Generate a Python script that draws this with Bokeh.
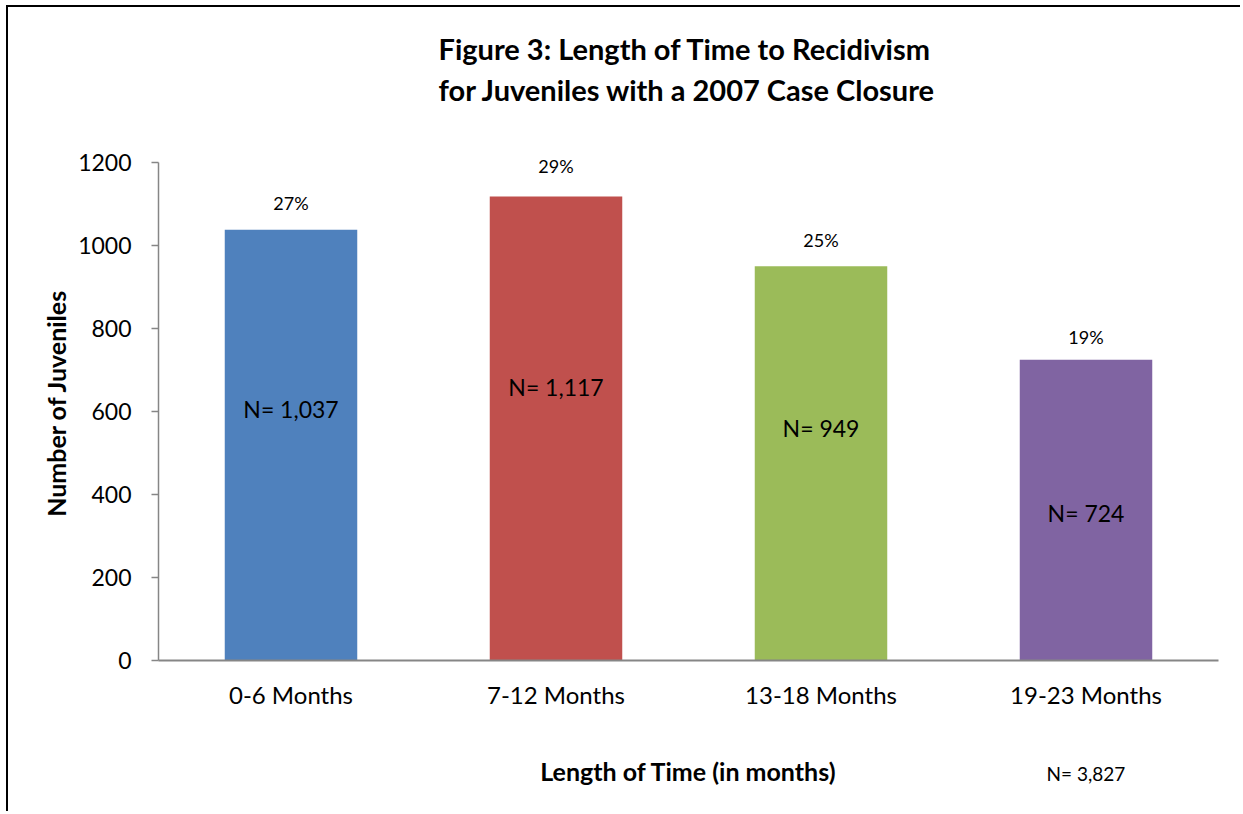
from bokeh.plotting import figure
from bokeh.models import (FactorRange, Range1d, FixedTicker, Title, CategoricalAxis,
                          ColumnDataSource)
from bokeh.core.properties import value
from bokeh.embed import file_html
from bokeh.resources import INLINE

# ---- data ----
categories = ["0-6 Months", "7-12 Months", "13-18 Months", "19-23 Months"]
counts = [1037, 1117, 949, 724]
percents = ["27%", "29%", "25%", "19%"]
n_labels = ["N= 1,037", "N= 1,117", "N= 949", "N= 724"]
colors = ["#4F81BD", "#C0504D", "#9BBB59", "#8064A2"]
y_ticks = [0, 200, 400, 600, 800, 1000, 1200]
total_label = "N= 3,827"

# ---- label placement (style) ----
pct_offsets = [-27, -31, -26, -23]          # px above bar top
n_label_frac = [0.585, 0.59, 0.59, 0.49]    # fraction of bar height

FONT = "Lato"

src = ColumnDataSource(dict(
    cat=categories, count=counts, color=colors, pct=percents,
    pct_off=pct_offsets, nlab=n_labels,
    ny=[c * f for c, f in zip(counts, n_label_frac)],
))

p = figure(
    x_range=FactorRange(factors=categories), y_range=Range1d(0, 1240),
    width=1234, height=806, output_backend="svg", toolbar_location=None,
    min_border_left=150, min_border_right=24, min_border_top=138, min_border_bottom=153,
    outline_line_color=None, background_fill_color="white", border_fill_color="white",
)
p.styles = {"border-left": "2px solid black", "border-top": "2px solid black",
            "margin-left": "6px", "margin-top": "5px"}

p.vbar(x="cat", top="count", width=0.5, color="color", line_color=None, source=src)

p.text(x="cat", y="count", text="pct", y_offset="pct_off", source=src,
       text_align="center", text_baseline="middle",
       text_font=value(FONT), text_font_size="18px", text_color="black")
p.text(x="cat", y="ny", text="nlab", source=src,
       text_align="center", text_baseline="middle",
       text_font=value(FONT), text_font_size="23px", text_color="black")

# spacer between frame and title, then the two-line title
p.add_layout(Title(text=" ", text_font_size="1px", standoff=14), "above")
p.add_layout(Title(text="Figure 3:  Length of Time to Recidivism\nfor Juveniles with a 2007 Case Closure",
                   align="center", text_font=FONT, text_font_size="29px",
                   text_font_style="bold", text_color="black",
                   text_line_height=1.17, standoff=43), "above")

p.xgrid.grid_line_color = None
p.ygrid.grid_line_color = None

xa = p.xaxis[0]
xa.axis_label = "Length of Time (in months)"
xa.axis_label_text_font = FONT
xa.axis_label_text_font_size = "25px"
xa.axis_label_text_font_style = "bold"
xa.axis_label_text_color = "black"
xa.axis_label_standoff = 44
xa.major_label_text_font = FONT
xa.major_label_text_font_size = "24px"
xa.major_label_text_color = "black"
xa.major_label_standoff = 19
xa.major_tick_in = 0
xa.major_tick_out = 0
xa.minor_tick_in = 0
xa.minor_tick_out = 0
xa.axis_line_color = "#868686"
xa.axis_line_width = 2

ya = p.yaxis[0]
ya.ticker = FixedTicker(ticks=y_ticks)
ya.bounds = (y_ticks[0], y_ticks[-1])
ya.axis_label = "Number of Juveniles"
ya.axis_label_text_font = FONT
ya.axis_label_text_font_size = "25px"
ya.axis_label_text_font_style = "bold"
ya.axis_label_text_color = "black"
ya.axis_label_standoff = 4
ya.major_label_text_font = FONT
ya.major_label_text_font_size = "23px"
ya.major_label_text_color = "black"
ya.major_label_standoff = 20
ya.major_tick_in = 0
ya.major_tick_out = 7
ya.minor_tick_in = 0
ya.minor_tick_out = 0
ya.axis_line_color = "#868686"
ya.axis_line_width = 1.5
ya.major_tick_line_color = "#868686"
ya.major_tick_line_width = 1.5

# overall N shown under the last category: a parallel factor range whose
# only visible factor sits in the last category's slot
total_factors = [" " * (i + 1) for i in range(len(categories) - 1)] + [total_label]
p.extra_x_ranges = {"total": FactorRange(factors=total_factors)}
total_axis = CategoricalAxis(
    x_range_name="total",
    axis_line_color=None, major_tick_line_color=None, minor_tick_line_color=None,
    major_tick_in=0, major_tick_out=0,
    major_label_standoff=-27, major_label_text_font=FONT,
    major_label_text_font_size="19px", major_label_text_color="black",
)
p.add_layout(total_axis, "below")

open("out.html", "w").write(file_html(p, INLINE))
